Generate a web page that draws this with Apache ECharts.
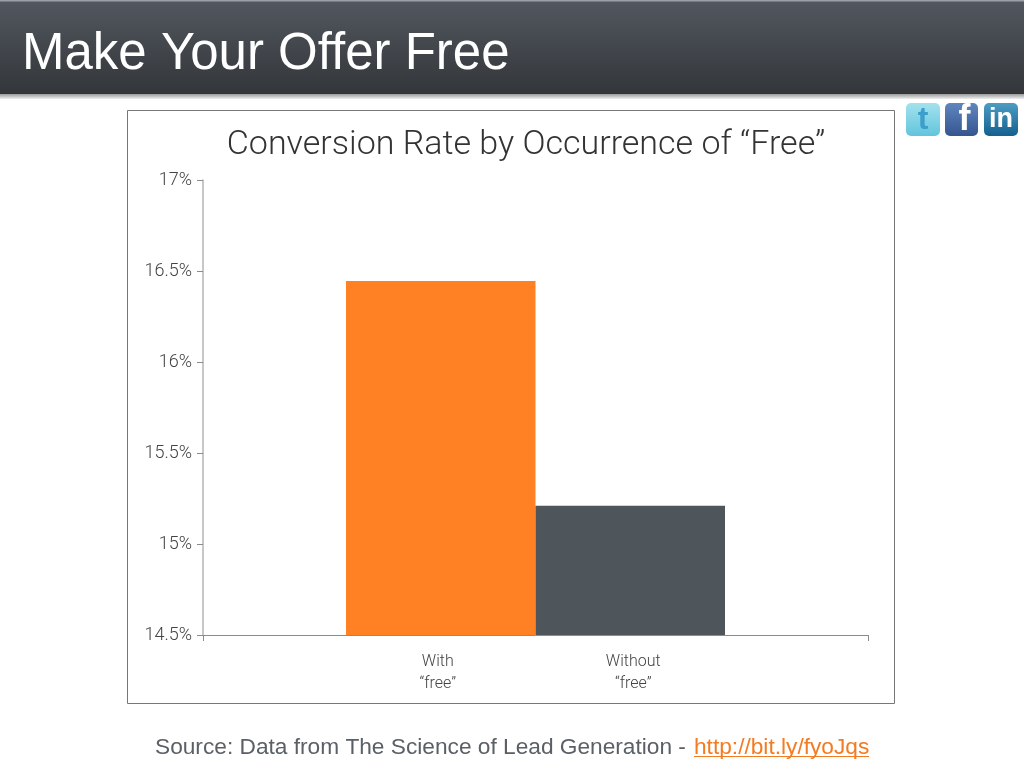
<!DOCTYPE html>
<html>
<head>
<meta charset="utf-8">
<style>html,body{margin:0;padding:0;background:#fff}#c{width:1024px;height:768px}</style>
<script src="https://cdn.jsdelivr.net/npm/echarts@6/dist/echarts.min.js"></script>
</head>
<body>
<div id="c"></div>
<script>
const slideTitle = 'Make Your Offer Free';
const chartTitle = 'Conversion Rate by Occurrence of “Free”';
const barNames = ['With\n“free”', 'Without\n“free”'];
const barValues = [16.445, 15.21];
const barColors = ['#FF8124', '#4E565B'];
const sourceText = 'Source: Data from The Science of Lead Generation - ';
const linkText = 'http://bit.ly/fyoJqs';
const lightFont = 'Roboto, "Liberation Sans", sans-serif';

function grad(a, b) {
  return new echarts.graphic.LinearGradient(0, 0, 0, 1, [{offset: 0, color: a}, {offset: 1, color: b}]);
}
function icon(x, w, a, b, letter, color, size, dx) {
  return [
    {type: 'rect', z: 5, shape: {x: x, y: 103, width: w, height: 33, r: 5}, style: {fill: grad(a, b)}},
    {type: 'text', z: 6, x: x + w / 2 + dx, y: 120, style: {text: letter, fill: color, font: 'bold ' + size + 'px "Liberation Sans", sans-serif', align: 'center', verticalAlign: 'middle'}}
  ];
}

const chart = echarts.init(document.getElementById('c'), null, {renderer: 'canvas', width: 1024, height: 768});
chart.setOption({
  animation: false,
  backgroundColor: '#fff',
  title: {
    text: chartTitle, left: 521, top: 123, textAlign: 'center',
    textStyle: {fontFamily: lightFont, fontWeight: 300, fontSize: 34, color: '#333'}
  },
  grid: {left: 203, right: 156, top: 180, bottom: 133},
  xAxis: {
    type: 'category', data: [''],
    axisLine: {lineStyle: {color: '#8c8c8c', width: 1}},
    axisTick: {show: true, length: 6, lineStyle: {color: '#8c8c8c'}},
    axisLabel: {show: false}
  },
  yAxis: {
    type: 'value', min: 14.5, max: 17, interval: 0.5,
    splitLine: {show: false},
    axisLine: {show: true, lineStyle: {color: '#b4b4b4', width: 1.5}},
    axisTick: {show: true, length: 6, lineStyle: {color: '#8c8c8c'}},
    axisLabel: {
      margin: 11, fontFamily: lightFont, fontWeight: 300, fontSize: 18, color: '#444',
      formatter: v => v + '%'
    }
  },
  series: barValues.map((v, i) => ({
    type: 'bar', name: barNames[i], data: [v], barWidth: 189.5, barGap: 0,
    itemStyle: {color: barColors[i]},
    label: {
      show: true, position: 'bottom', distance: 16, offset: [i === 0 ? -3 : 3, 0],
      formatter: barNames[i], fontFamily: lightFont, fontWeight: 300, fontSize: 16,
      lineHeight: 22, color: '#444'
    }
  })),
  graphic: [
    {type: 'rect', z: 1, shape: {x: 0, y: 94, width: 1024, height: 5}, style: {fill: grad('#9a9a9a', '#f0f0f0')}},
    {type: 'rect', z: 2, shape: {x: 0, y: 0, width: 1024, height: 94}, style: {fill: grad('#52585f', '#33363a')}},
    {type: 'rect', z: 3, shape: {x: 0, y: 0, width: 1024, height: 1.5}, style: {fill: '#9aa0a5'}},
    {type: 'text', z: 4, x: 22, y: 55, style: {text: slideTitle, fill: '#fff', font: '51px "Liberation Sans", sans-serif', verticalAlign: 'middle'}},
    {type: 'rect', z: 0, shape: {x: 127.5, y: 110.5, width: 767, height: 593}, style: {fill: 'none', stroke: '#777', lineWidth: 1}},
    ...icon(906, 34, '#a2e2ee', '#62c4dc', 't', '#3C9FCB', 32, 0),
    ...icon(945, 33, '#5f86c0', '#36558f', 'f', '#fff', 36, 3),
    ...icon(984, 34, '#4c9cc4', '#14608f', 'in', '#fff', 27, 0),
    {type: 'text', z: 4, x: 155, y: 748, style: {text: sourceText, fill: '#5a6066', font: '22.7px "Liberation Sans", sans-serif', verticalAlign: 'middle'}},
    {type: 'text', z: 4, x: 694, y: 748, style: {text: linkText, fill: '#F37B22', font: '22.7px "Liberation Sans", sans-serif', verticalAlign: 'middle'}},
    {type: 'line', z: 4, shape: {x1: 694, y1: 756.5, x2: 869, y2: 756.5}, style: {stroke: '#F37B22', lineWidth: 1}}
  ]
});
</script>
</body>
</html>
